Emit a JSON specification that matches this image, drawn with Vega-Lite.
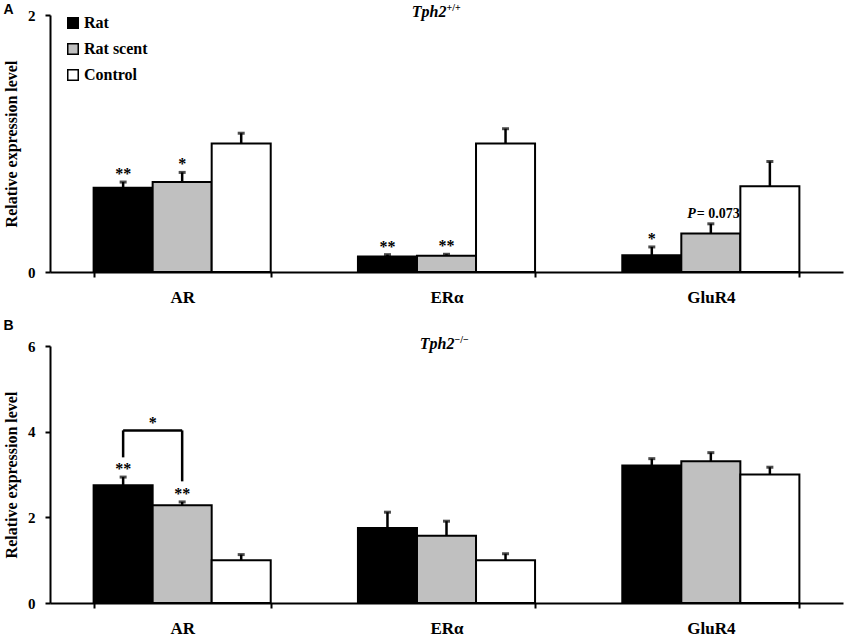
{
  "$schema": "https://vega.github.io/schema/vega-lite/v6.json",
  "background": "white",
  "padding": {"left": 3, "top": 3, "right": 5, "bottom": 1},
  "spacing": 14,
  "datasets": {
    "barsA": [
      {"gene": "AR", "group": "Rat", "value": 0.655, "err": 0.70, "sig": "**"},
      {"gene": "AR", "group": "Rat scent", "value": 0.70, "err": 0.775, "sig": "*"},
      {"gene": "AR", "group": "Control", "value": 1.0, "err": 1.08, "sig": ""},
      {"gene": "ERα", "group": "Rat", "value": 0.12, "err": 0.135, "sig": "**"},
      {"gene": "ERα", "group": "Rat scent", "value": 0.127, "err": 0.138, "sig": "**"},
      {"gene": "ERα", "group": "Control", "value": 1.0, "err": 1.115, "sig": ""},
      {"gene": "GluR4", "group": "Rat", "value": 0.13, "err": 0.195, "sig": "*"},
      {"gene": "GluR4", "group": "Rat scent", "value": 0.30, "err": 0.375, "sig": ""},
      {"gene": "GluR4", "group": "Control", "value": 0.667, "err": 0.86, "sig": ""}
    ],
    "pnote": [
      {"gene": "GluR4", "group": "Rat scent", "err": 0.375, "p": "P", "rest": "= 0.073"}
    ],
    "barsB": [
      {"gene": "AR", "group": "Rat", "value": 2.75, "err": 2.94, "sig": "**"},
      {"gene": "AR", "group": "Rat scent", "value": 2.28, "err": 2.36, "sig": "**"},
      {"gene": "AR", "group": "Control", "value": 1.0, "err": 1.13, "sig": ""},
      {"gene": "ERα", "group": "Rat", "value": 1.75, "err": 2.12, "sig": ""},
      {"gene": "ERα", "group": "Rat scent", "value": 1.57, "err": 1.91, "sig": ""},
      {"gene": "ERα", "group": "Control", "value": 1.0, "err": 1.15, "sig": ""},
      {"gene": "GluR4", "group": "Rat", "value": 3.21, "err": 3.37, "sig": ""},
      {"gene": "GluR4", "group": "Rat scent", "value": 3.31, "err": 3.51, "sig": ""},
      {"gene": "GluR4", "group": "Control", "value": 3.0, "err": 3.17, "sig": ""}
    ],
    "bracketLegs": [
      {"gene": "AR", "group": "Rat", "top": 4.03, "bottom": 3.40},
      {"gene": "AR", "group": "Rat scent", "top": 4.03, "bottom": 2.84}
    ],
    "bracketTop": [
      {"gene": "AR", "top": 4.03, "star": "*"}
    ],
    "titleA": [{"main": "Tph2", "sup": "+/+"}],
    "titleB": [{"main": "Tph2", "sup": "−/−"}]
  },
  "vconcat": [
    {
      "title": {"text": "A", "offset": -14},
      "width": 793,
      "height": 257,
      "data": {"name": "barsA"},
      "encoding": {
        "x": {"field": "gene", "type": "nominal", "sort": ["AR", "ERα", "GluR4"], "title": null,
              "scale": {"paddingInner": 0.33, "paddingOuter": 0.165}}
      },
      "layer": [
        {
          "mark": {"type": "rule", "strokeWidth": 2.5, "color": "black"},
          "encoding": {
            "xOffset": {"field": "group", "type": "nominal", "sort": ["Rat", "Rat scent", "Control"], "scale": {"paddingInner": 0, "paddingOuter": 0}},
            "y": {"field": "value", "type": "quantitative", "title": "Relative expression level"},
            "y2": {"field": "err"}
          }
        },
        {
          "mark": {"type": "tick", "thickness": 3, "size": 7, "color": "black"},
          "encoding": {
            "xOffset": {"field": "group", "type": "nominal", "sort": ["Rat", "Rat scent", "Control"]},
            "y": {"field": "err", "type": "quantitative", "title": "Relative expression level"}
          }
        },
        {
          "mark": {"type": "bar", "stroke": "black", "strokeWidth": 2},
          "encoding": {
            "xOffset": {"field": "group", "type": "nominal", "sort": ["Rat", "Rat scent", "Control"]},
            "y": {"field": "value", "type": "quantitative", "title": "Relative expression level",
                  "scale": {"domain": [0, 2], "nice": false}, "axis": {"values": [0, 1, 2], "format": "d"}},
            "fill": {"field": "group", "type": "nominal",
                     "scale": {"domain": ["Rat", "Rat scent", "Control"], "range": ["#000000", "#c0c0c0", "#ffffff"]},
                     "legend": {"title": null, "orient": "none", "legendX": 15, "legendY": 0}}
          }
        },
        {
          "mark": {"type": "text", "fontSize": 16, "fontWeight": "bold", "font": "Liberation Serif", "baseline": "alphabetic", "dy": -3, "color": "black"},
          "encoding": {
            "xOffset": {"field": "group", "type": "nominal", "sort": ["Rat", "Rat scent", "Control"]},
            "y": {"field": "err", "type": "quantitative", "title": "Relative expression level"},
            "text": {"field": "sig"}
          }
        },
        {
          "data": {"name": "pnote"},
          "mark": {"type": "text", "fontSize": 14, "fontWeight": "bold", "fontStyle": "italic", "font": "Liberation Serif", "baseline": "alphabetic", "align": "right", "dx": -15, "dy": -6, "color": "black"},
          "encoding": {
            "xOffset": {"field": "group", "type": "nominal", "sort": ["Rat", "Rat scent", "Control"]},
            "y": {"field": "err", "type": "quantitative", "title": "Relative expression level"},
            "text": {"field": "p"}
          }
        },
        {
          "data": {"name": "pnote"},
          "mark": {"type": "text", "fontSize": 14, "fontWeight": "bold", "font": "Liberation Serif", "baseline": "alphabetic", "align": "left", "dx": -14, "dy": -6, "color": "black"},
          "encoding": {
            "xOffset": {"field": "group", "type": "nominal", "sort": ["Rat", "Rat scent", "Control"]},
            "y": {"field": "err", "type": "quantitative", "title": "Relative expression level"},
            "text": {"field": "rest"}
          }
        },
        {
          "data": {"name": "titleA"},
          "mark": {"type": "text", "fontSize": 16, "fontWeight": "bold", "fontStyle": "italic", "font": "Liberation Serif", "baseline": "alphabetic", "align": "right", "dx": 0, "dy": 2, "color": "black"},
          "encoding": {
            "x": {"datum": "ERα", "type": "nominal"},
            "y": {"datum": 2, "type": "quantitative"},
            "text": {"field": "main"}
          }
        },
        {
          "data": {"name": "titleA"},
          "mark": {"type": "text", "fontSize": 10, "fontWeight": "bold", "font": "Liberation Serif", "baseline": "alphabetic", "align": "left", "dx": 0, "dy": -4, "color": "black"},
          "encoding": {
            "x": {"datum": "ERα", "type": "nominal"},
            "y": {"datum": 2, "type": "quantitative"},
            "text": {"field": "sup"}
          }
        }
      ]
    },
    {
      "title": {"text": "B", "offset": 2},
      "width": 793,
      "height": 257,
      "data": {"name": "barsB"},
      "encoding": {
        "x": {"field": "gene", "type": "nominal", "sort": ["AR", "ERα", "GluR4"], "title": null,
              "scale": {"paddingInner": 0.33, "paddingOuter": 0.165}}
      },
      "layer": [
        {
          "mark": {"type": "rule", "strokeWidth": 2.5, "color": "black"},
          "encoding": {
            "xOffset": {"field": "group", "type": "nominal", "sort": ["Rat", "Rat scent", "Control"], "scale": {"paddingInner": 0, "paddingOuter": 0}},
            "y": {"field": "value", "type": "quantitative", "title": "Relative expression level"},
            "y2": {"field": "err"}
          }
        },
        {
          "mark": {"type": "tick", "thickness": 3, "size": 7, "color": "black"},
          "encoding": {
            "xOffset": {"field": "group", "type": "nominal", "sort": ["Rat", "Rat scent", "Control"]},
            "y": {"field": "err", "type": "quantitative", "title": "Relative expression level"}
          }
        },
        {
          "mark": {"type": "bar", "stroke": "black", "strokeWidth": 2},
          "encoding": {
            "xOffset": {"field": "group", "type": "nominal", "sort": ["Rat", "Rat scent", "Control"]},
            "y": {"field": "value", "type": "quantitative", "title": "Relative expression level",
                  "scale": {"domain": [0, 6], "nice": false}, "axis": {"values": [0, 2, 4, 6], "format": "d"}},
            "fill": {"field": "group", "type": "nominal",
                     "scale": {"domain": ["Rat", "Rat scent", "Control"], "range": ["#000000", "#c0c0c0", "#ffffff"]},
                     "legend": {"title": null, "orient": "none", "legendX": 15, "legendY": 0}}
          }
        },
        {
          "mark": {"type": "text", "fontSize": 16, "fontWeight": "bold", "font": "Liberation Serif", "baseline": "alphabetic", "dy": -3, "color": "black"},
          "encoding": {
            "xOffset": {"field": "group", "type": "nominal", "sort": ["Rat", "Rat scent", "Control"]},
            "y": {"field": "err", "type": "quantitative", "title": "Relative expression level"},
            "text": {"field": "sig"}
          }
        },
        {
          "data": {"name": "bracketLegs"},
          "mark": {"type": "rule", "strokeWidth": 2.5, "color": "black"},
          "encoding": {
            "xOffset": {"field": "group", "type": "nominal", "sort": ["Rat", "Rat scent", "Control"]},
            "y": {"field": "top", "type": "quantitative", "title": "Relative expression level"},
            "y2": {"field": "bottom"}
          }
        },
        {
          "data": {"name": "bracketTop"},
          "mark": {"type": "rule", "strokeWidth": 2.5, "color": "black"},
          "encoding": {
            "x": {"field": "gene", "type": "nominal", "sort": ["AR", "ERα", "GluR4"], "bandPosition": 0.1667},
            "x2": {"field": "gene"},
            "y": {"field": "top", "type": "quantitative", "title": "Relative expression level"}
          }
        },
        {
          "data": {"name": "bracketTop"},
          "mark": {"type": "text", "fontSize": 16, "fontWeight": "bold", "font": "Liberation Serif", "baseline": "alphabetic", "dy": -2, "color": "black"},
          "encoding": {
            "x": {"field": "gene", "type": "nominal", "sort": ["AR", "ERα", "GluR4"], "bandPosition": 0.3333},
            "y": {"field": "top", "type": "quantitative", "title": "Relative expression level"},
            "text": {"field": "star"}
          }
        },
        {
          "data": {"name": "titleB"},
          "mark": {"type": "text", "fontSize": 16, "fontWeight": "bold", "fontStyle": "italic", "font": "Liberation Serif", "baseline": "alphabetic", "align": "right", "dx": 8, "dy": 3, "color": "black"},
          "encoding": {
            "x": {"datum": "ERα", "type": "nominal"},
            "y": {"datum": 6, "type": "quantitative"},
            "text": {"field": "main"}
          }
        },
        {
          "data": {"name": "titleB"},
          "mark": {"type": "text", "fontSize": 10, "fontWeight": "bold", "font": "Liberation Serif", "baseline": "alphabetic", "align": "left", "dx": 8, "dy": -3, "color": "black"},
          "encoding": {
            "x": {"datum": "ERα", "type": "nominal"},
            "y": {"datum": 6, "type": "quantitative"},
            "text": {"field": "sup"}
          }
        }
      ]
    }
  ],
  "config": {
    "view": {"stroke": null},
    "font": "Liberation Serif",
    "title": {"font": "Liberation Sans", "fontSize": 14, "fontWeight": "bold", "anchor": "start", "frame": "bounds", "color": "black"},
    "axis": {"domainColor": "black", "domainWidth": 2, "tickColor": "black", "tickWidth": 2, "tickSize": 5,
             "labelColor": "black", "labelFont": "Liberation Serif", "labelFontWeight": "bold", "grid": false,
             "titleFont": "Liberation Serif", "titleFontWeight": "bold", "titleColor": "black"},
    "axisX": {"labelFontSize": 17, "labelAngle": 0, "tickBand": "extent", "labelPadding": 12},
    "axisY": {"labelFontSize": 15, "labelPadding": 10, "titleFontSize": 16, "titlePadding": 8},
    "legend": {"symbolType": "square", "symbolSize": 110, "symbolStrokeColor": "black", "symbolStrokeWidth": 1.5,
               "labelFontSize": 16, "labelFont": "Liberation Serif", "labelFontWeight": "bold", "labelColor": "black",
               "rowPadding": 8, "labelOffset": 3, "padding": 0, "symbolOpacity": 1}
  }
}
